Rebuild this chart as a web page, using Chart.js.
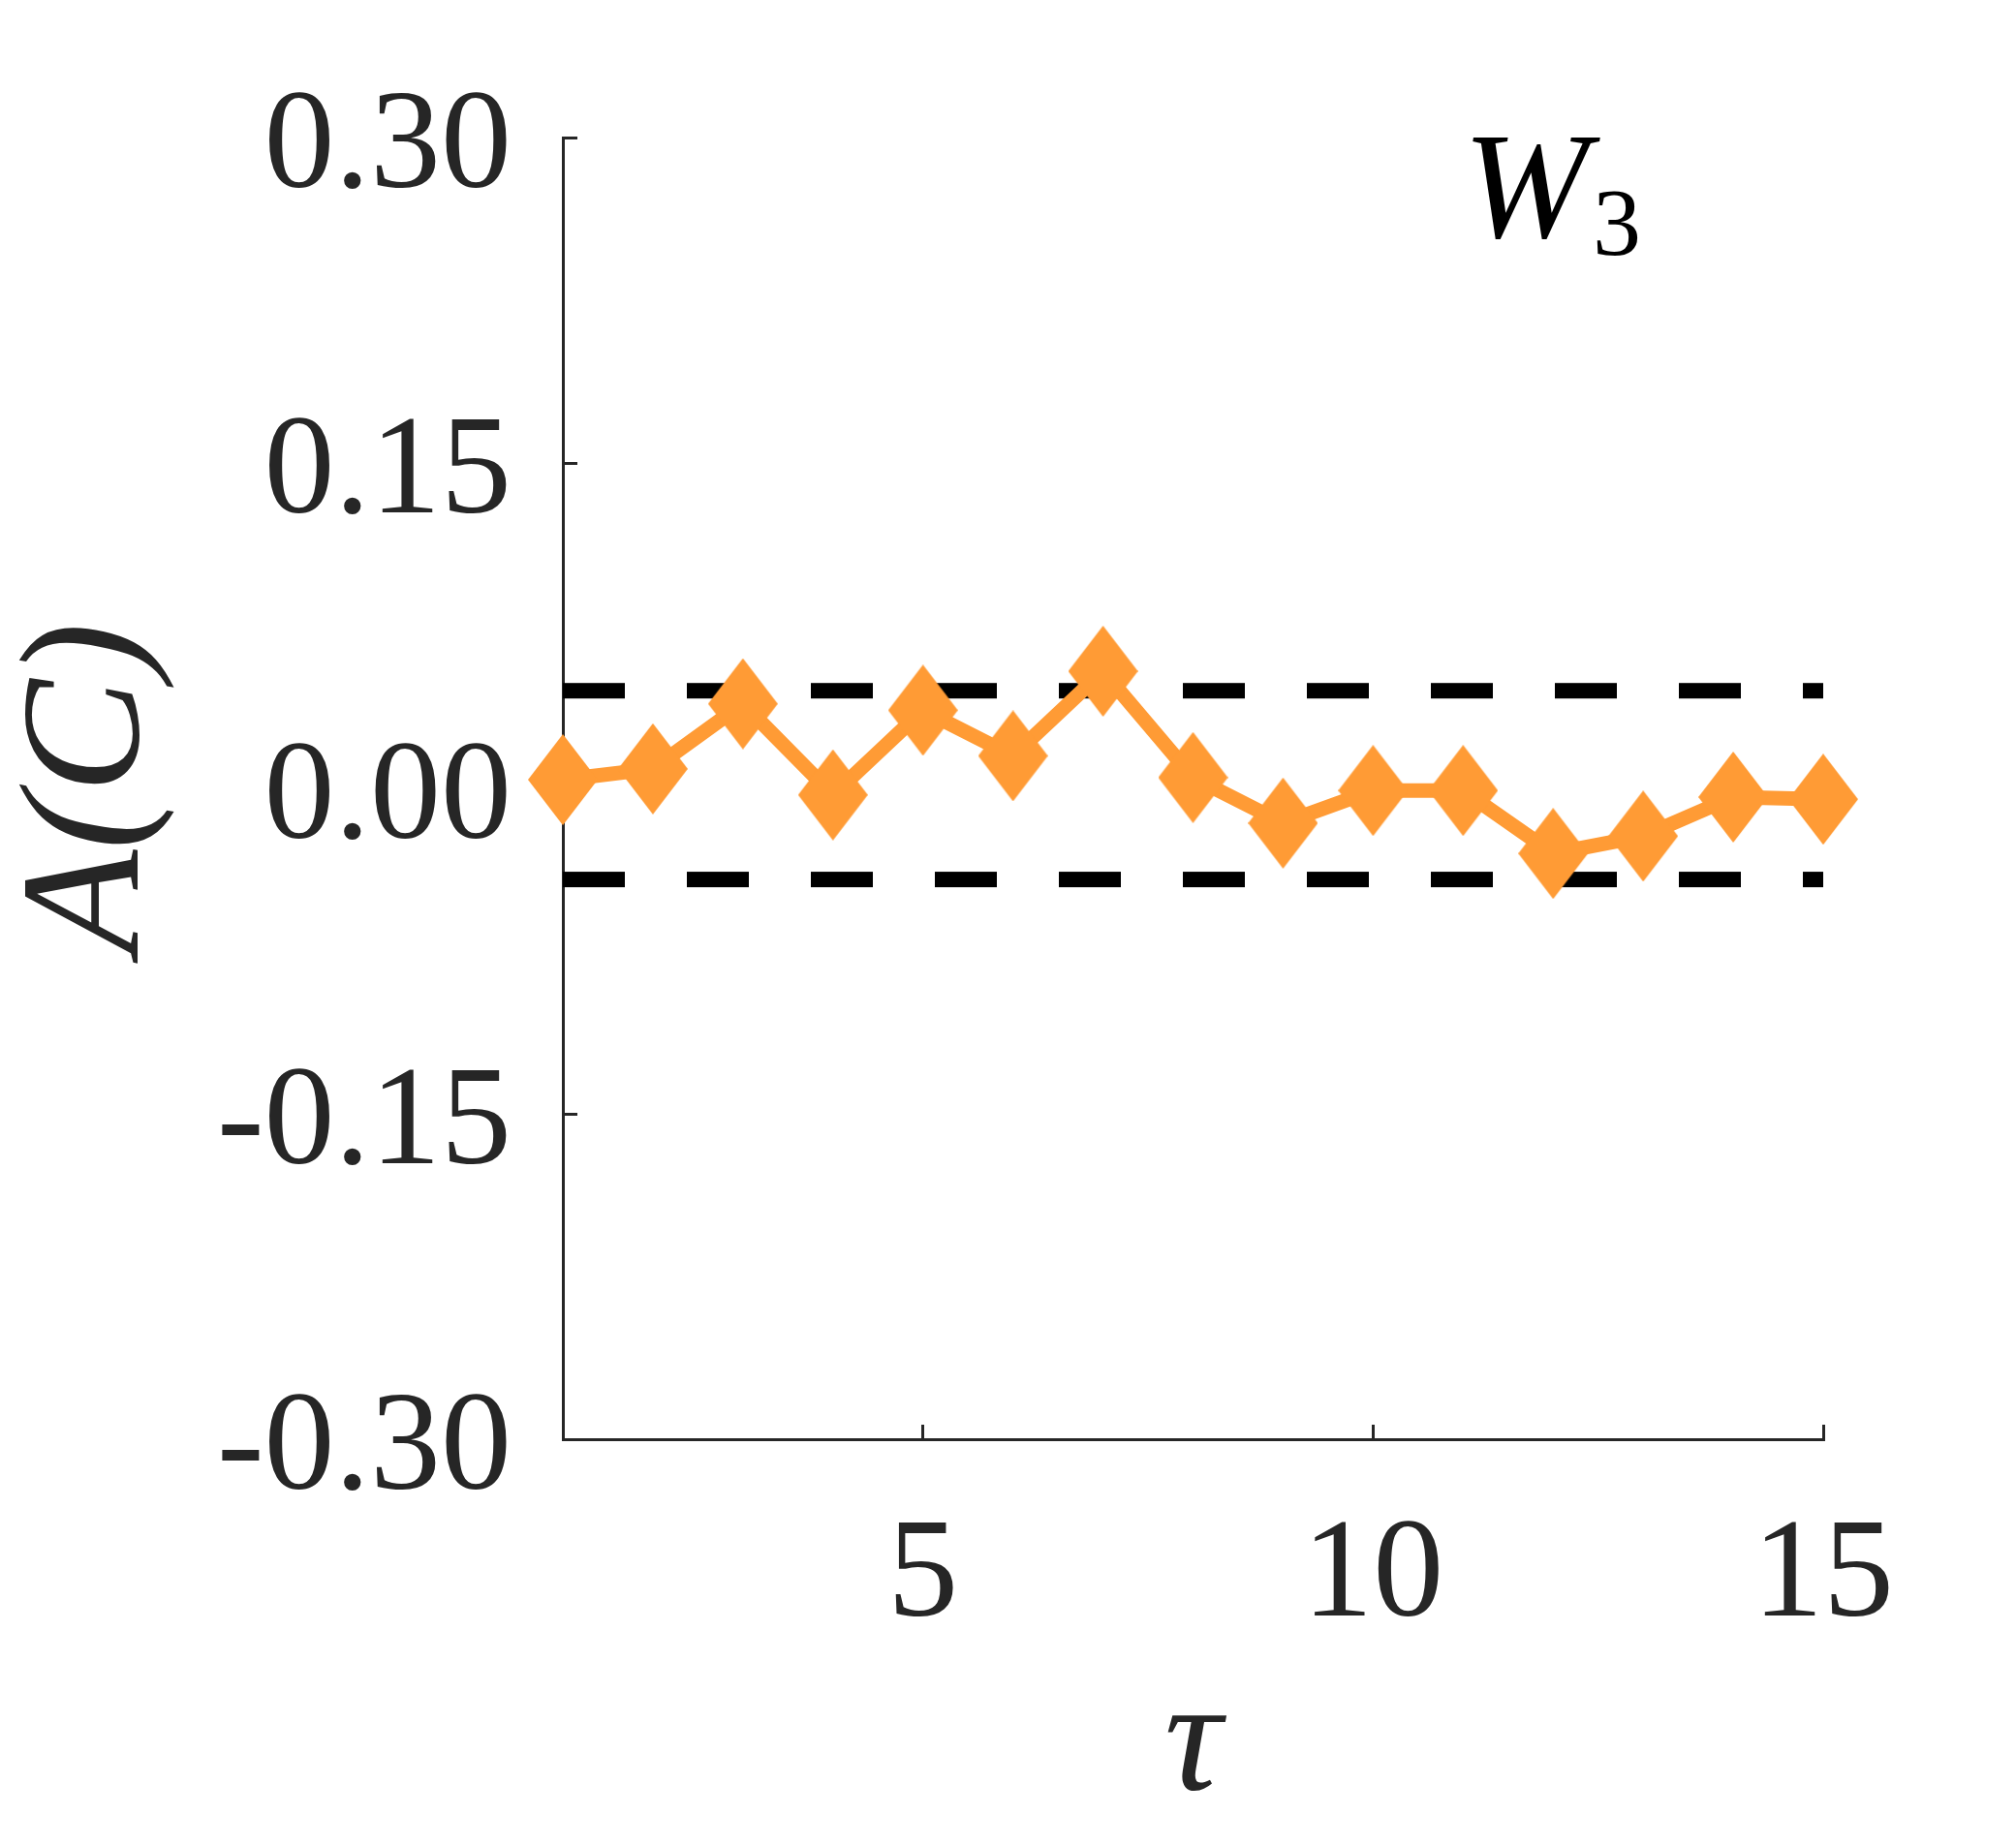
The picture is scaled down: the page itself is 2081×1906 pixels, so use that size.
<!DOCTYPE html>
<html>
<head>
<meta charset="utf-8">
<script src="https://cdn.jsdelivr.net/npm/chart.js@4/dist/chart.umd.min.js"></script>
<style>
  html, body { margin: 0; padding: 0; background: #ffffff; }
  #wrap { width: 2081px; height: 1906px; position: relative; }
</style>
</head>
<body>
<div id="wrap"><canvas id="c"></canvas></div>
<script>
// ---- data ----
const tauValues = [1, 2, 3, 4, 5, 6, 7, 8, 9, 10, 11, 12, 13, 14, 15];
const aValues = [0.004, 0.009, 0.039, -0.003, 0.036, 0.015, 0.054, 0.005, -0.016, -0.001, -0.001, -0.030, -0.022, -0.004, -0.005];
const upperBound = 0.045;
const lowerBound = -0.042;
const xTickValues = [5, 10, 15];
const yTickValues = [-0.30, -0.15, 0.00, 0.15, 0.30];
const xTitle = 'τ';
const yTitle = 'A(C)';
const panelLabel = 'W';
const panelSub = '3';

// ---- styles ----
const ORANGE = '#FF9B35';
const AXIS = '#262626';

function diamond(w, h, color) {
  const cv = document.createElement('canvas');
  cv.width = w; cv.height = h;
  const g = cv.getContext('2d');
  g.fillStyle = color;
  g.beginPath();
  g.moveTo(w / 2, 0);
  g.lineTo(w, h / 2);
  g.lineTo(w / 2, h);
  g.lineTo(0, h / 2);
  g.closePath();
  g.fill();
  return cv;
}
const diamondImg = diamond(72, 94, ORANGE);

const mainData = tauValues.map((t, i) => ({ x: t, y: aValues[i] }));
const upperData = [tauValues[0], tauValues[tauValues.length - 1]].map(t => ({ x: t, y: upperBound }));
const lowerData = [tauValues[0], tauValues[tauValues.length - 1]].map(t => ({ x: t, y: lowerBound }));

const panelLabelPlugin = {
  id: 'panelLabel',
  afterDraw(chart) {
    const { ctx, chartArea } = chart;
    ctx.save();
    ctx.fillStyle = '#000000';
    ctx.textBaseline = 'alphabetic';
    ctx.textAlign = 'left';
    ctx.font = 'italic 156px "Liberation Serif"';
    const x0 = chartArea.right - 372;
    const y0 = chartArea.top + 103;
    ctx.fillText(panelLabel, x0, y0);
    const w = ctx.measureText(panelLabel).width;
    ctx.font = '100px "Liberation Serif"';
    ctx.fillText(panelSub, x0 + w + 4, y0 + 18);
    ctx.restore();
  }
};

new Chart(document.getElementById('c'), {
  type: 'line',
  data: {
    datasets: [
      {
        data: mainData,
        borderColor: ORANGE,
        backgroundColor: ORANGE,
        borderWidth: 15,
        pointStyle: diamondImg,
        pointRadius: 36,
        pointHoverRadius: 36,
        tension: 0,
        clip: false,
        order: 0
      },
      {
        data: upperData,
        borderColor: '#000000',
        borderWidth: 16,
        borderDash: [64, 64],
        borderCapStyle: 'butt',
        pointRadius: 0,
        clip: false,
        order: 1
      },
      {
        data: lowerData,
        borderColor: '#000000',
        borderWidth: 16,
        borderDash: [64, 64],
        borderCapStyle: 'butt',
        pointRadius: 0,
        clip: false,
        order: 2
      }
    ]
  },
  options: {
    responsive: true,
    maintainAspectRatio: false,
    animation: false,
    events: [],
    layout: { padding: { top: 142, right: 199, left: 0, bottom: 0 } },
    plugins: { legend: { display: false }, tooltip: { enabled: false }, title: { display: false } },
    scales: {
      x: {
        type: 'linear',
        min: 1,
        max: 15,
        afterBuildTicks: s => { s.ticks = xTickValues.map(v => ({ value: v })); },
        afterFit: s => { s.height = 420; s.paddingLeft = 0; s.paddingRight = 0; },
        border: { display: true, color: AXIS, width: 3 },
        grid: { drawOnChartArea: false, drawTicks: true, tickLength: -15, color: AXIS, lineWidth: 3 },
        ticks: {
          color: AXIS,
          font: { family: '"Liberation Serif"', size: 146 },
          padding: 71,
          maxRotation: 0,
          callback: v => String(v)
        },
        title: {
          display: true,
          text: xTitle,
          color: AXIS,
          font: { family: '"Liberation Serif"', size: 165, style: 'italic', lineHeight: 1 },
          padding: { top: 0, bottom: 20 }
        }
      },
      y: {
        type: 'linear',
        min: -0.30,
        max: 0.30,
        afterBuildTicks: s => { s.ticks = yTickValues.map(v => ({ value: v })); },
        afterFit: s => { s.width = 581; s.paddingTop = 0; s.paddingBottom = 0; },
        border: { display: true, color: AXIS, width: 3 },
        grid: { drawOnChartArea: false, drawTicks: true, tickLength: -15, color: AXIS, lineWidth: 3 },
        ticks: {
          color: AXIS,
          font: { family: '"Liberation Serif"', size: 146 },
          padding: 68,
          labelOffset: 13,
          callback: v => Number(v).toFixed(2)
        },
        title: {
          display: true,
          text: yTitle,
          color: AXIS,
          font: { family: '"Liberation Serif"', size: 176, style: 'italic', lineHeight: 1 },
          padding: { top: 8, bottom: 0 }
        }
      }
    }
  },
  plugins: [panelLabelPlugin]
});
</script>
</body>
</html>
